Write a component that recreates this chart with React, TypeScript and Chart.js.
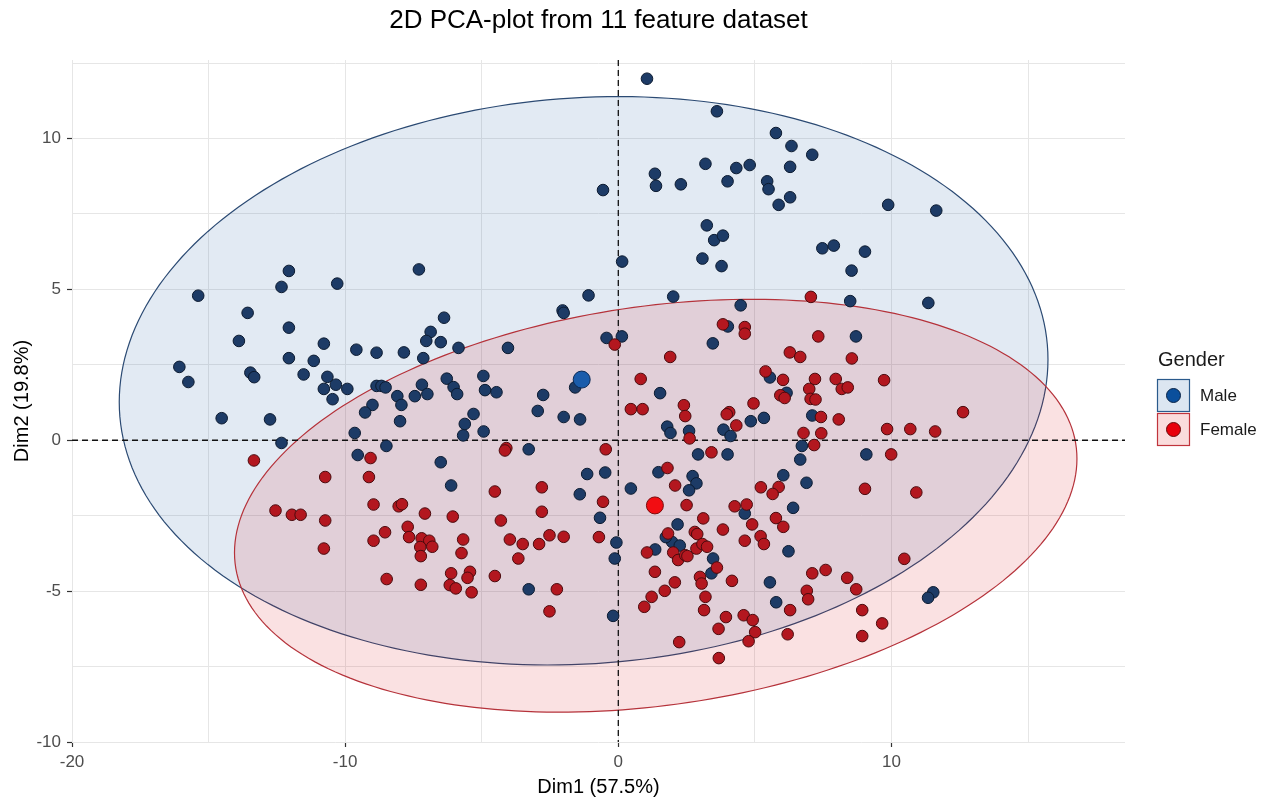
import React, { useEffect, useRef } from "react";
import { Chart, registerables } from "chart.js";

Chart.register(...registerables);

const TITLE = "2D PCA-plot from 11 feature dataset";
const X_TITLE = "Dim1 (57.5%)";
const Y_TITLE = "Dim2 (19.8%)";
const LEGEND_TITLE = "Gender";
const GROUPS = ["Male", "Female"];

const X_MIN = -20;
const X_MAX = 18.55;
const Y_MIN = -10;
const Y_MAX = 12.6;

const maleX = [
  -12.06, -12.33, -10.29, -15.38, -13.57, -12.06, -13.89, -10.78, -9.59, -8.85,
  -12.06, -11.15, -16.07, -15.74, -13.47, -13.33, -11.52, -10.65, -10.34, -10.78,
  -9.92, -10.46, -8.85, -8.67, -8.52, -9.0, -9.27, -14.52, -12.75, -9.65,
  -12.33, -8.49, -9.54, -7.3, -1.09, -2.04, -2.0, -6.38, -6.87, -7.03,
  -6.5, -5.85, -7.85, -7.14, -4.04, -0.43, -4.94, -6.28, -1.58, -7.19,
  -6.03, -5.9, -6.99, -7.45, -8.09, -7.94, -4.88, -4.46, -2.75, -2.95,
  -2.0, -1.4, -7.99, -5.3, -5.62, -4.93, -5.68, -3.28, -6.5, -1.14,
  -0.48, -6.12, -1.41, -0.67, -3.28, 2.01, 4.48, 4.01, 0.13,
  3.46, 5.55, 1.53, 6.16, 4.85, 5.33, 7.1, 1.79, 1.91, 2.59,
  3.85, 4.11, 6.72, 2.92, 4.0, 6.66, 1.47, 2.72, 2.86, 2.59,
  0.46, 6.04, 6.89, 4.63, 6.4, -0.07, -0.13, 2.17, 1.97, 2.25,
  1.35, 3.47, 3.41, 5.55, 6.23, 5.78, -0.19, 1.74, 8.49, 11.35,
  8.7, 9.08, 11.53, 11.34, 1.05, 3.61, 5.77, 6.34, 7.1, 3.19,
  4.32, 4.81, 6.29, 1.34, 1.38, 2.29, 4.0, 5.45, 5.5, 6.29,
  5.87, -0.56, 3.24, 3.51, 3.83, 3.08, 3.78, 0.14, 7.47, 9.88,
  11.64, 7.89, 9.03, 8.54,
];
const maleY = [
  5.61, 5.08, 5.19, 4.79, 4.22, 3.73, 3.29, 3.2, 3.0, 2.9,
  2.72, 2.63, 2.43, 1.93, 2.24, 2.09, 2.18, 2.1, 1.84, 1.7,
  1.7, 1.36, 1.8, 1.8, 1.75, 1.17, 0.92, 0.73, 0.69, 0.24,
  -0.09, -0.19, -0.49, 5.66, 4.8, 4.3, 4.22, 4.06, 3.59, 3.29,
  3.25, 3.06, 2.91, 2.72, 3.06, 3.39, 2.13, 2.04, 1.75, 1.84,
  1.76, 1.53, 1.53, 1.46, 1.46, 1.17, 1.66, 1.59, 1.5, 0.97,
  0.77, 0.69, 0.63, 0.87, 0.54, 0.29, 0.16, -0.3, -0.73, -1.12,
  -1.07, -1.5, -1.79, -2.57, -4.94, 4.76, 4.47, 3.77, 3.44,
  3.21, 2.08, 1.56, 1.57, 0.63, 0.74, 0.82, 0.45, 0.24, 0.31,
  0.35, 0.14, -0.19, -0.47, -0.47, -0.64, -1.06, -1.19, -1.43, -1.66,
  -1.6, -1.16, -1.41, -2.43, -2.24, -3.39, -3.92, -2.79, -3.37, -3.49,
  -3.62, -3.92, -4.41, -4.71, -3.68, -5.37, -5.82, -3.21, 4.61, 4.55,
  3.44, -0.47, -5.04, -5.22, 11.98, 10.9, 10.18, 9.75, 9.46, 9.16,
  9.02, 9.12, 9.06, 8.83, 8.43, 8.48, 8.58, 8.58, 8.32, 8.05,
  7.8, 8.29, 7.12, 6.63, 6.78, 6.02, 5.77, 5.92, 6.36, 7.8,
  7.61, 6.45, 6.25, 5.62,
];

const femaleX = [
  -13.34, -9.07, -10.73, -9.13, -8.96, -12.55, -11.95, -11.63, -10.73, -8.54,
  -8.96, -10.78, -8.48, -4.1, -4.15, -0.46, -0.56, -4.52, -2.8, -2.8,
  -8.04, -7.92, -7.08, -6.06, -4.3, -7.71, -7.66, -7.2, -6.92, -6.81,
  -7.25, -7.23, -5.68, -5.74, -3.97, -3.5, -2.9, -2.52, -2.0, -0.71,
  -3.66, -7.23, -6.12, -5.43, -5.52, -6.17, -5.95, -5.37, -4.52, -2.25,
  -2.52, 7.05, 3.83, 4.63, 4.63, -0.13, 7.32, 1.9, 6.28, 6.66,
  0.82, 5.39, 6.03, 7.2, 6.99, 5.93, 6.09, 7.04, 7.22, 0.46,
  0.89, 2.4, 2.45, 4.06, 3.97, 4.95, 4.32, 6.78, 2.61, 7.17,
  3.41, 1.8, 2.08, 5.22, 5.87, 5.65, 2.5, 4.26, 4.7, 3.11,
  5.77, 6.04, 1.82, 2.8, 2.89, 3.83, 4.9, 4.63, 5.21, 5.33,
  1.05, 2.01, 2.19, 2.45, 2.53, 2.86, 3.08, 3.25, 3.61, 1.34,
  2.07, 1.7, 2.99, 3.05, 4.16, 7.1, 6.9, 6.95, 6.29, 1.22,
  0.95, 3.19, 3.14, 3.94, 4.59, 4.92, 5.01, 4.77, 3.67, 2.23,
  6.2, 3.68, 8.55, 7.96, 8.18, 8.4, 9.73, 7.42, 8.07, 12.62,
  9.84, 10.69, 11.6, 7.43, 9.99, 9.03, 10.91, 10.47, 7.59, 8.38,
  8.71, 8.93, 9.66, 8.93,
];
const femaleY = [
  -0.67, -0.59, -1.22, -1.22, -2.13, -2.33, -2.47, -2.47, -2.66, -3.05,
  -3.33, -3.59, -4.6, -0.26, -0.34, -0.3, -2.04, -1.7, -1.56, -2.37,
  -2.19, -2.12, -2.43, -2.53, -2.66, -2.87, -3.21, -3.25, -3.33, -3.53,
  -3.54, -3.84, -3.29, -3.74, -3.29, -3.44, -3.44, -3.15, -3.2, -3.21,
  -3.92, -4.79, -4.41, -4.36, -4.56, -4.8, -4.91, -5.04, -4.5, -4.94,
  -5.67, 4.75, 3.84, 3.75, 3.53, 3.17, 3.44, 2.76, 2.91, 2.76,
  2.03, 2.28, 2.0, 2.03, 1.7, 1.49, 1.4, 1.37, 1.35, 1.03,
  1.03, 1.16, 0.8, 0.93, 0.86, 1.22, 0.49, 0.24, 0.06, -0.16,
  -0.4, -0.92, -1.5, -1.56, -1.55, -1.78, -2.15, -2.19, -2.13, -2.59,
  -2.58, -2.87, -3.09, -3.04, -3.11, -2.96, -2.79, -3.33, -3.18, -3.44,
  -3.72, -3.72, -3.97, -3.81, -3.84, -3.59, -3.44, -3.53, -4.22, -4.36,
  -4.71, -4.99, -4.53, -4.75, -4.66, -4.41, -4.99, -5.27, -5.63, -5.19,
  -5.52, -5.19, -5.63, -5.86, -5.8, -5.96, -6.36, -6.66, -6.25, -6.69,
  -6.43, -7.22, 2.71, 2.03, 1.7, 1.75, 1.99, 0.77, 0.69, 0.93,
  0.37, 0.37, 0.29, 0.23, -0.47, -1.61, -1.73, -3.93, -4.3, -4.56,
  -4.94, -5.63, -6.07, -6.49,
];

// group centroids (Male, Female)
const centroidX = [-1.34, 1.34];
const centroidY = [2.01, -2.16];

// confidence ellipses (Male, Female): centre and spread (variance-like) terms
const ellipseCX = [-1.27, 1.37];
const ellipseCY = [1.97, -2.17];
const ellipseSXX = [289.0, 237.8];
const ellipseSYY = [88.7, 46.8];
const ellipseSXY = [12.0, 24.0];

const FONT = "'Liberation Sans', Arial, Helvetica, sans-serif";
const ELLIPSE_FILL = ["rgba(31,90,160,0.13)", "rgba(220,20,30,0.13)"];
const ELLIPSE_STROKE = ["#2b4a73", "#b5323a"];
const KEY_FILL = ["#dce6f1", "#fadcdc"];
const KEY_STROKE = ["#2a5a8c", "#c0343c"];
const KEY_DOT = ["#0b4f9c", "#e8000b"];
const KEY_DOT_STROKE = ["#0a2447", "#6a0a0a"];

const isMultiple = (v: number, m: number) =>
  Math.abs(v / m - Math.round(v / m)) < 1e-6;

const pcaPlugin = {
  id: "pcaDecor",
  beforeDatasetsDraw(chart: any) {
    const { ctx, chartArea } = chart;
    const xs = chart.scales.x;
    const ys = chart.scales.y;
    ctx.save();
    ctx.beginPath();
    ctx.rect(chartArea.left, chartArea.top, chartArea.width, chartArea.height);
    ctx.clip();
    for (let g = 0; g < ellipseCX.length; g++) {
      const a = Math.sqrt(ellipseSXX[g]);
      const b = ellipseSXY[g] / a;
      const c = Math.sqrt(ellipseSYY[g] - b * b);
      ctx.beginPath();
      const n = 240;
      for (let i = 0; i <= n; i++) {
        const t = (i / n) * Math.PI * 2;
        const dx = a * Math.cos(t);
        const dy = b * Math.cos(t) + c * Math.sin(t);
        const px = xs.getPixelForValue(ellipseCX[g] + dx);
        const py = ys.getPixelForValue(ellipseCY[g] + dy);
        if (i === 0) ctx.moveTo(px, py);
        else ctx.lineTo(px, py);
      }
      ctx.closePath();
      ctx.fillStyle = ELLIPSE_FILL[g];
      ctx.fill();
      ctx.strokeStyle = ELLIPSE_STROKE[g];
      ctx.lineWidth = 1.2;
      ctx.stroke();
    }
    const x0 = xs.getPixelForValue(0);
    const y0 = ys.getPixelForValue(0);
    ctx.setLineDash([6, 4]);
    ctx.strokeStyle = "#111";
    ctx.lineWidth = 1.3;
    ctx.beginPath();
    ctx.moveTo(x0, chartArea.top);
    ctx.lineTo(x0, chartArea.bottom);
    ctx.stroke();
    ctx.beginPath();
    ctx.moveTo(chartArea.left, y0);
    ctx.lineTo(chartArea.right, y0);
    ctx.stroke();
    ctx.restore();
  },
  afterDraw(chart: any) {
    const { ctx, chartArea } = chart;
    ctx.save();
    // title
    ctx.fillStyle = "#000";
    ctx.font = `26px ${FONT}`;
    ctx.textAlign = "center";
    ctx.textBaseline = "middle";
    ctx.fillText(TITLE, (chartArea.left + chartArea.right) / 2, 21);
    // legend
    const lx = chartArea.right + 32;
    ctx.textAlign = "left";
    ctx.fillStyle = "#1a1a1a";
    ctx.font = `20px ${FONT}`;
    ctx.fillText(LEGEND_TITLE, lx + 1, 360);
    for (let g = 0; g < GROUPS.length; g++) {
      const top = 379 + g * 34;
      ctx.fillStyle = KEY_FILL[g];
      ctx.fillRect(lx, top, 33, 33);
      ctx.strokeStyle = KEY_STROKE[g];
      ctx.lineWidth = 1.2;
      ctx.strokeRect(lx + 0.5, top + 0.5, 32, 32);
      ctx.beginPath();
      ctx.arc(lx + 16.5, top + 16.5, 7, 0, Math.PI * 2);
      ctx.fillStyle = KEY_DOT[g];
      ctx.fill();
      ctx.strokeStyle = KEY_DOT_STROKE[g];
      ctx.lineWidth = 1;
      ctx.stroke();
      ctx.fillStyle = "#1a1a1a";
      ctx.font = `17px ${FONT}`;
      ctx.fillText(GROUPS[g], lx + 43, top + 17);
    }
    ctx.restore();
  },
};

const toPoints = (xs: number[], ys: number[]) =>
  xs.map((x, i) => ({ x, y: ys[i] }));

export default function App() {
  const ref = useRef<HTMLCanvasElement | null>(null);

  useEffect(() => {
    if (!ref.current) return;
    const chart = new Chart(ref.current, {
      type: "scatter",
      data: {
        datasets: [
          {
            label: "Male centroid",
            data: [{ x: centroidX[0], y: centroidY[0] }],
            backgroundColor: "#1a5cab",
            borderColor: "#0c2a55",
            borderWidth: 1,
            pointRadius: 8.5,
            pointHoverRadius: 8.5,
          },
          {
            label: "Female centroid",
            data: [{ x: centroidX[1], y: centroidY[1] }],
            backgroundColor: "#f20d12",
            borderColor: "#7a0a0a",
            borderWidth: 1,
            pointRadius: 8.5,
            pointHoverRadius: 8.5,
          },
          {
            label: GROUPS[1],
            data: toPoints(femaleX, femaleY),
            backgroundColor: "#b3171f",
            borderColor: "#4a0a0d",
            borderWidth: 1,
            pointRadius: 5.8,
            pointHoverRadius: 5.8,
          },
          {
            label: GROUPS[0],
            data: toPoints(maleX, maleY),
            backgroundColor: "#1d3b66",
            borderColor: "#0b1a30",
            borderWidth: 1,
            pointRadius: 5.8,
            pointHoverRadius: 5.8,
          },
        ],
      },
      options: {
        animation: false,
        responsive: false,
        devicePixelRatio: 1,
        layout: { padding: { top: 60, right: 145, left: 0, bottom: 0 } },
        plugins: {
          legend: { display: false },
          title: { display: false },
          tooltip: { enabled: false },
        },
        scales: {
          x: {
            type: "linear",
            min: X_MIN,
            max: X_MAX,
            afterFit: (s: any) => {
              s.height = 58;
            },
            border: { display: false },
            grid: {
              color: "#e6e6e6",
              lineWidth: 1,
              drawTicks: true,
              tickLength: 5,
              tickWidth: 1.2,
              tickColor: (c: any) =>
                c.tick && isMultiple(c.tick.value, 10) ? "#333" : "rgba(0,0,0,0)",
            },
            ticks: {
              stepSize: 5,
              includeBounds: false,
              autoSkip: false,
              maxRotation: 0,
              padding: 5,
              color: "#4d4d4d",
              font: { family: FONT, size: 17 },
              callback: (v: any) =>
                isMultiple(Number(v), 10) ? String(Math.round(Number(v))) : "",
            },
            title: {
              display: true,
              text: X_TITLE,
              color: "#000",
              font: { family: FONT, size: 20 },
              padding: { top: 0, bottom: 1 },
            },
          },
          y: {
            type: "linear",
            min: Y_MIN,
            max: Y_MAX,
            afterFit: (s: any) => {
              s.width = 72;
            },
            border: { display: false },
            grid: {
              color: "#e6e6e6",
              lineWidth: 1,
              drawTicks: true,
              tickLength: 5,
              tickWidth: 1.2,
              tickColor: (c: any) =>
                c.tick && isMultiple(c.tick.value, 5) ? "#333" : "rgba(0,0,0,0)",
            },
            ticks: {
              stepSize: 2.5,
              includeBounds: false,
              autoSkip: false,
              padding: 6,
              color: "#4d4d4d",
              font: { family: FONT, size: 17 },
              callback: (v: any) =>
                isMultiple(Number(v), 5) ? String(Math.round(Number(v))) : "",
            },
            title: {
              display: true,
              text: Y_TITLE,
              color: "#000",
              font: { family: FONT, size: 20 },
              padding: { top: 10, bottom: 0 },
            },
          },
        },
      },
      plugins: [pcaPlugin],
    } as any);
    return () => chart.destroy();
  }, []);

  return (
    <div
      style={{
        position: "fixed",
        left: 0,
        top: 0,
        width: 1270,
        height: 800,
        background: "#fff",
      }}
    >
      <canvas ref={ref} width={1270} height={800} style={{ display: "block" }} />
    </div>
  );
}
